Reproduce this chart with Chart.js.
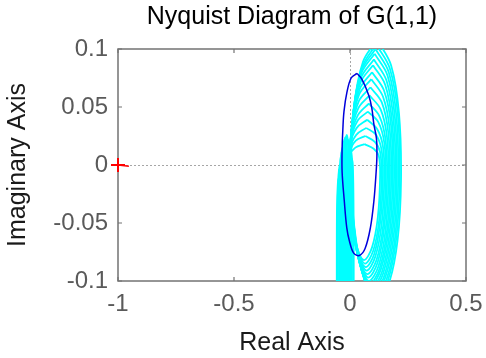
<!DOCTYPE html>
<html>
<head>
<meta charset="utf-8">
<script src="https://cdn.jsdelivr.net/npm/chart.js@4.4.0/dist/chart.umd.min.js"></script>
<style>
  html, body { margin: 0; padding: 0; background: #fff; }
</style>
</head>
<body>
<canvas id="nyq" width="486" height="358"></canvas>
<script>
const nyquistTitle = 'Nyquist Diagram of G(1,1)';
const xAxisTitle = 'Real Axis';
const yAxisTitle = 'Imaginary Axis';

const xTicks = [-1, -0.5, 0, 0.5];
const xTickLabels = ['-1', '-0.5', '0', '0.5'];
const yTicks = [-0.1, -0.05, 0, 0.05, 0.1];
const yTickLabels = ['-0.1', '-0.05', '0', '0.05', '0.1'];

// critical point -1 + 0j and the little red arrow leaving it
const criticalRe = [-1];
const criticalIm = [0];
const arrowRe = [-1, -0.953];
const arrowIm = [0, -0.001];

// nominal response (blue)
const nominalRe = [0.030, 0.051, 0.081, 0.094, 0.103, 0.114, 0.116, 0.112, 0.103, 0.088, 0.065, 0.040,
                   0.016, -0.002, -0.014, -0.025, -0.034, -0.034, -0.031, -0.026, -0.013, 0.005, 0.030];
const nominalIm = [0.079, 0.074, 0.060, 0.049, 0.035, 0.023, 0.008, -0.008, -0.031, -0.054, -0.072, -0.078,
                   -0.076, -0.066, -0.054, -0.030, -0.006, 0.014, 0.030, 0.046, 0.063, 0.075, 0.079];

// sampled responses (cyan), large loops, outer to inner
const bigLoopsRe = [
  [0.117, 0.177, 0.211, 0.220, 0.205, 0.166, 0.113, 0.064, 0.026, 0.004, 0.017, 0.056],
  [0.113, 0.172, 0.206, 0.214, 0.199, 0.161, 0.110, 0.062, 0.024, 0.003, 0.016, 0.054],
  [0.110, 0.167, 0.200, 0.208, 0.194, 0.157, 0.106, 0.060, 0.023, 0.002, 0.014, 0.051],
  [0.106, 0.162, 0.194, 0.202, 0.188, 0.152, 0.103, 0.057, 0.021, 0.001, 0.013, 0.049],
  [0.103, 0.157, 0.188, 0.196, 0.182, 0.147, 0.099, 0.055, 0.020, 0.000, 0.012, 0.047],
  [0.099, 0.152, 0.182, 0.190, 0.177, 0.142, 0.095, 0.052, 0.018, -0.001, 0.010, 0.045],
  [0.095, 0.147, 0.177, 0.184, 0.171, 0.138, 0.092, 0.050, 0.017, -0.002, 0.009, 0.043],
  [0.092, 0.142, 0.171, 0.178, 0.165, 0.133, 0.088, 0.048, 0.015, -0.003, 0.008, 0.040],
  [0.088, 0.137, 0.165, 0.172, 0.160, 0.128, 0.085, 0.045, 0.014, -0.004, 0.007, 0.038],
  [0.084, 0.132, 0.159, 0.166, 0.154, 0.123, 0.081, 0.043, 0.012, -0.005, 0.005, 0.036],
  [0.081, 0.127, 0.153, 0.160, 0.148, 0.119, 0.078, 0.041, 0.011, -0.006, 0.004, 0.034],
  [0.077, 0.122, 0.148, 0.154, 0.143, 0.114, 0.074, 0.038, 0.009, -0.007, 0.003, 0.032],
  [0.074, 0.117, 0.142, 0.148, 0.137, 0.109, 0.071, 0.036, 0.008, -0.008, 0.001, 0.029],
  [0.070, 0.112, 0.136, 0.142, 0.131, 0.104, 0.067, 0.033, 0.006, -0.009, 0.000, 0.027],
  [0.066, 0.107, 0.130, 0.136, 0.126, 0.100, 0.064, 0.031, 0.005, -0.010, -0.001, 0.025],
  [0.063, 0.102, 0.124, 0.130, 0.120, 0.095, 0.060, 0.029, 0.003, -0.011, -0.003, 0.023]
];
const bigLoopsIm = [
  [0.108, 0.086, 0.045, -0.012, -0.065, -0.103, -0.118, -0.100, -0.065, -0.012, 0.049, 0.089],
  [0.104, 0.083, 0.044, -0.012, -0.064, -0.101, -0.116, -0.099, -0.064, -0.012, 0.047, 0.085],
  [0.100, 0.080, 0.042, -0.011, -0.063, -0.099, -0.114, -0.097, -0.063, -0.011, 0.045, 0.082],
  [0.096, 0.077, 0.040, -0.011, -0.062, -0.097, -0.112, -0.095, -0.062, -0.011, 0.043, 0.079],
  [0.091, 0.073, 0.038, -0.011, -0.061, -0.096, -0.110, -0.094, -0.061, -0.011, 0.041, 0.075],
  [0.086, 0.069, 0.036, -0.011, -0.059, -0.094, -0.108, -0.092, -0.059, -0.011, 0.039, 0.071],
  [0.080, 0.064, 0.034, -0.011, -0.058, -0.092, -0.106, -0.090, -0.058, -0.011, 0.036, 0.066],
  [0.074, 0.059, 0.031, -0.010, -0.057, -0.090, -0.104, -0.088, -0.057, -0.010, 0.033, 0.061],
  [0.067, 0.054, 0.028, -0.010, -0.056, -0.089, -0.102, -0.087, -0.056, -0.010, 0.030, 0.055],
  [0.060, 0.048, 0.025, -0.010, -0.055, -0.087, -0.100, -0.085, -0.055, -0.010, 0.027, 0.049],
  [0.053, 0.042, 0.022, -0.010, -0.053, -0.084, -0.097, -0.082, -0.053, -0.010, 0.024, 0.043],
  [0.046, 0.037, 0.019, -0.009, -0.052, -0.082, -0.094, -0.080, -0.052, -0.009, 0.021, 0.038],
  [0.039, 0.031, 0.016, -0.009, -0.050, -0.079, -0.091, -0.077, -0.050, -0.009, 0.018, 0.032],
  [0.032, 0.026, 0.013, -0.009, -0.048, -0.077, -0.088, -0.075, -0.048, -0.009, 0.014, 0.026],
  [0.025, 0.020, 0.011, -0.009, -0.047, -0.074, -0.085, -0.072, -0.047, -0.009, 0.011, 0.021],
  [0.018, 0.014, 0.008, -0.008, -0.045, -0.071, -0.082, -0.070, -0.045, -0.008, 0.008, 0.015]
];

// sampled responses (cyan), thin loops left of and at the origin
const narrowLoopsRe = [
  [-0.057, -0.057, -0.056, -0.053, -0.050, -0.047, -0.044, -0.043, -0.043],
  [-0.054, -0.054, -0.053, -0.050, -0.0475, -0.045, -0.042, -0.041, -0.041],
  [-0.052, -0.052, -0.051, -0.048, -0.044, -0.040, -0.037, -0.036, -0.036],
  [-0.047, -0.047, -0.046, -0.043, -0.038, -0.033, -0.030, -0.029, -0.029],
  [-0.044, -0.044, -0.043, -0.040, -0.035, -0.029, -0.026, -0.025, -0.025],
  [-0.042, -0.042, -0.041, -0.038, -0.032, -0.026, -0.023, -0.022, -0.022],
  [-0.037, -0.037, -0.036, -0.033, -0.026, -0.019, -0.016, -0.015, -0.015],
  [-0.034, -0.034, -0.033, -0.030, -0.023, -0.016, -0.013, -0.012, -0.012],
  [-0.031, -0.031, -0.030, -0.027, -0.020, -0.013, -0.010, -0.009, -0.009],
  [-0.025, -0.025, -0.024, -0.021, -0.014, -0.007, -0.004, -0.003, -0.003],
  [-0.019, -0.019, -0.018, -0.015, -0.009, -0.003, 0.000, 0.001, 0.001],
  [-0.013, -0.013, -0.012, -0.009, -0.003, 0.003, 0.006, 0.007, 0.007],
  [-0.007, -0.007, -0.006, -0.003, 0.003, 0.009, 0.012, 0.013, 0.013],
  [-0.003, -0.003, -0.002, 0.001, 0.0065, 0.012, 0.015, 0.016, 0.016]
];
const narrowLoopsIm = [
  [-0.108, -0.070, -0.035, -0.018, -0.012, -0.017, -0.035, -0.070, -0.108],
  [-0.108, -0.070, -0.032, -0.012, -0.004, -0.011, -0.032, -0.070, -0.108],
  [-0.108, -0.070, -0.030, -0.007, 0.000, -0.006, -0.030, -0.070, -0.108],
  [-0.108, -0.070, -0.030, 0.000, 0.008, 0.000, -0.030, -0.070, -0.108],
  [-0.108, -0.070, -0.030, 0.004, 0.012, 0.004, -0.030, -0.070, -0.108],
  [-0.108, -0.070, -0.030, 0.006, 0.015, 0.006, -0.030, -0.070, -0.108],
  [-0.108, -0.070, -0.030, 0.010, 0.020, 0.010, -0.030, -0.070, -0.108],
  [-0.108, -0.070, -0.030, 0.011, 0.022, 0.011, -0.030, -0.070, -0.108],
  [-0.108, -0.070, -0.030, 0.013, 0.024, 0.013, -0.030, -0.070, -0.108],
  [-0.108, -0.070, -0.030, 0.015, 0.026, 0.015, -0.030, -0.070, -0.108],
  [-0.108, -0.070, -0.030, 0.012, 0.022, 0.012, -0.030, -0.070, -0.108],
  [-0.108, -0.070, -0.030, 0.008, 0.018, 0.008, -0.030, -0.070, -0.108],
  [-0.108, -0.070, -0.030, 0.004, 0.012, 0.004, -0.030, -0.070, -0.108],
  [-0.108, -0.070, -0.030, 0.000, 0.006, 0.000, -0.030, -0.070, -0.108]
];

function toPoints(re, im) {
  return re.map((x, i) => ({ x: x, y: im[i] }));
}

const cyan = '#00ffff';
const datasets = [];

// first dataset is painted last, so marker and nominal go on top
datasets.push({
  data: toPoints(criticalRe, criticalIm),
  showLine: false, pointStyle: 'cross', pointRadius: 7, pointBorderWidth: 2,
  borderColor: '#ff0000', backgroundColor: '#ff0000', clip: false
});
datasets.push({
  data: toPoints(arrowRe, arrowIm),
  borderColor: '#ff0000', borderWidth: 1.5, pointRadius: 0, clip: false
});
datasets.push({
  data: toPoints(nominalRe, nominalIm),
  borderColor: '#0000dc', borderWidth: 1.5, pointRadius: 0, tension: 0.35
});
bigLoopsRe.forEach((re, k) => {
  const im = bigLoopsIm[k];
  datasets.push({
    data: toPoints(re.concat(re[0]), im.concat(im[0])),
    borderColor: cyan, borderWidth: 1.8, pointRadius: 0, tension: 0.35
  });
});
narrowLoopsRe.forEach((re, k) => {
  datasets.push({
    data: toPoints(re, narrowLoopsIm[k]),
    borderColor: cyan, borderWidth: 1.8, pointRadius: 0, tension: 0.35
  });
});

// box around the axes with inward tick marks, MATLAB style
const axesBox = {
  id: 'axesBox',
  beforeDatasetsDraw(chart) {
    const { ctx, chartArea: a, scales } = chart;
    ctx.save();
    ctx.strokeStyle = '#737373';
    ctx.lineWidth = 1.5;
    ctx.strokeRect(a.left, a.top, a.right - a.left, a.bottom - a.top);
    ctx.lineWidth = 1.2;
    ctx.beginPath();
    xTicks.forEach(v => {
      const px = scales.x.getPixelForValue(v);
      ctx.moveTo(px, a.bottom); ctx.lineTo(px, a.bottom - 4);
      ctx.moveTo(px, a.top); ctx.lineTo(px, a.top + 4);
    });
    yTicks.forEach(v => {
      const py = scales.y.getPixelForValue(v);
      ctx.moveTo(a.left, py); ctx.lineTo(a.left + 4, py);
      ctx.moveTo(a.right, py); ctx.lineTo(a.right - 4, py);
    });
    ctx.stroke();
    ctx.restore();
  }
};

Chart.defaults.font.family = "'Liberation Sans', Arial, sans-serif";

const zeroLine = c => (c.tick && c.tick.value === 0 ? '#a6a6a6' : 'rgba(0,0,0,0)');

new Chart('nyq', {
  type: 'line',
  data: { datasets: datasets },
  options: {
    responsive: false,
    animation: false,
    events: [],
    layout: { padding: { left: 0, right: 20, top: 0, bottom: 0 } },
    elements: { line: { capBezierPoints: false } },
    plugins: {
      legend: { display: false },
      tooltip: { enabled: false },
      title: {
        display: true, text: nyquistTitle, fullSize: false, color: '#000',
        font: { size: 25, weight: 'normal' }, padding: { top: 2, bottom: 17 }
      }
    },
    scales: {
      x: {
        type: 'linear', min: -1, max: 0.5,
        afterBuildTicks: s => { s.ticks = xTicks.map(v => ({ value: v })); },
        afterFit: s => { s.height = 77; s.paddingLeft = 0; s.paddingRight = 0; },
        grid: { color: zeroLine, lineWidth: 1, drawTicks: false },
        border: { display: false, dash: [2, 2] },
        ticks: {
          color: '#5a5a5a', font: { size: 24 }, padding: 9, maxRotation: 0, autoSkip: false,
          callback: (v, i) => xTickLabels[i]
        },
        title: { display: true, text: xAxisTitle, color: '#1a1a1a', font: { size: 25 }, padding: { top: 0, bottom: 0 } }
      },
      y: {
        type: 'linear', min: -0.1, max: 0.1,
        afterBuildTicks: s => { s.ticks = yTicks.map(v => ({ value: v })); },
        afterFit: s => { s.width = 118; s.paddingTop = 0; s.paddingBottom = 0; },
        grid: { color: zeroLine, lineWidth: 1, drawTicks: false },
        border: { display: false, dash: [2, 2] },
        ticks: {
          color: '#5a5a5a', font: { size: 24 }, padding: 10, autoSkip: false,
          callback: (v, i) => yTickLabels[i]
        },
        title: { display: true, text: yAxisTitle, color: '#1a1a1a', font: { size: 25 }, padding: { top: 3, bottom: 0 } }
      }
    }
  },
  plugins: [axesBox]
});
</script>
</body>
</html>
